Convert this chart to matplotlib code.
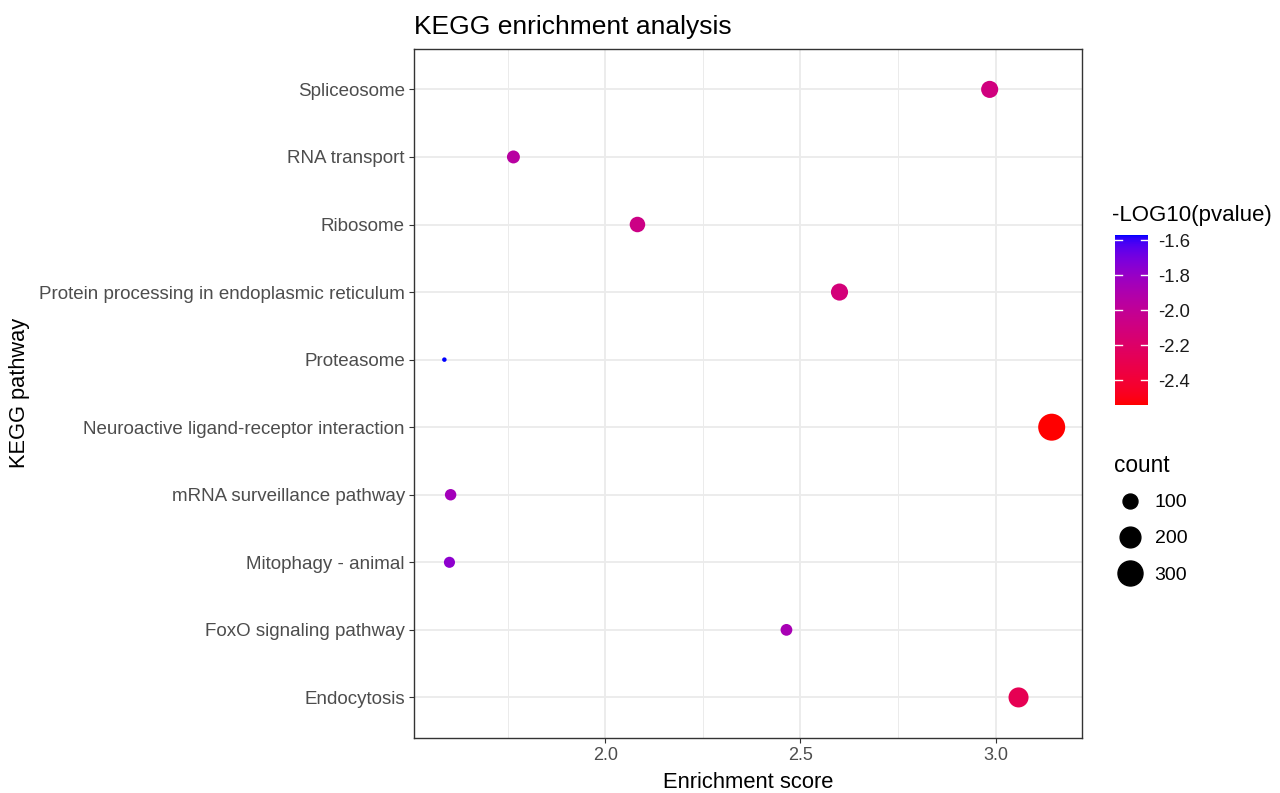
import numpy as np
import matplotlib
matplotlib.use('Agg')
import matplotlib.pyplot as plt
from matplotlib.colors import ListedColormap, Normalize
from matplotlib.lines import Line2D

plt.rcParams['font.family'] = ['Liberation Sans', 'DejaVu Sans']

pathways = ['Endocytosis', 'FoxO signaling pathway', 'Mitophagy - animal',
            'mRNA surveillance pathway', 'Neuroactive ligand-receptor interaction',
            'Proteasome', 'Protein processing in endoplasmic reticulum',
            'Ribosome', 'RNA transport', 'Spliceosome']
enrichment = [3.059, 2.464, 1.600, 1.603, 3.144, 1.587, 2.600, 2.082, 1.764, 2.985]
neg_log_p = [-2.28, -1.87, -1.77, -1.85, -2.54, -1.57, -2.12, -2.07, -1.95, -2.10]
counts = [185, 64, 58, 61, 355, 30, 132, 108, 76, 132]
legend_counts = [100, 200, 300]
cbar_ticks = [-1.6, -1.8, -2.0, -2.2, -2.4]


# ggplot-style gradient: interpolate red -> blue in Lab space
def srgb_to_lab(rgb):
    rgb = np.asarray(rgb, float)
    lin = np.where(rgb <= 0.04045, rgb / 12.92, ((rgb + 0.055) / 1.055) ** 2.4)
    m = np.array([[0.4124, 0.3576, 0.1805],
                  [0.2126, 0.7152, 0.0722],
                  [0.0193, 0.1192, 0.9505]])
    xyz = m @ lin / np.array([0.95047, 1.0, 1.08883])
    f = np.where(xyz > 0.008856, np.cbrt(xyz), 7.787 * xyz + 16 / 116)
    return np.array([116 * f[1] - 16, 500 * (f[0] - f[1]), 200 * (f[1] - f[2])])


def lab_to_srgb(lab):
    L, a, b = lab
    fy = (L + 16) / 116
    fx = fy + a / 500
    fz = fy - b / 200
    f = np.array([fx, fy, fz])
    xyz = np.where(f ** 3 > 0.008856, f ** 3, (f - 16 / 116) / 7.787)
    xyz = xyz * np.array([0.95047, 1.0, 1.08883])
    minv = np.array([[3.2406, -1.5372, -0.4986],
                     [-0.9689, 1.8758, 0.0415],
                     [0.0557, -0.2040, 1.0570]])
    lin = np.clip(minv @ xyz, 0, 1)
    rgb = np.where(lin <= 0.0031308, 12.92 * lin, 1.055 * lin ** (1 / 2.4) - 0.055)
    return np.clip(rgb, 0, 1)


lab_lo = srgb_to_lab([1, 0, 0])
lab_hi = srgb_to_lab([0, 0, 1])
cmap = ListedColormap([lab_to_srgb(lab_lo + t * (lab_hi - lab_lo)) for t in np.linspace(0, 1, 256)])
norm = Normalize(vmin=min(neg_log_p), vmax=max(neg_log_p))


# size scale like scale_size (area, range 1-6 mm)
cmin, cmax = min(counts), max(counts)
def marker_area(c):
    c = np.asarray(c, float)
    size_mm = 1 + 5 * np.sqrt(np.clip((c - cmin) / (cmax - cmin), 0, 1))
    d_pt = size_mm * 4.5 * 0.72
    return d_pt ** 2


fig = plt.figure(figsize=(12.8, 7.93), dpi=100)
ax = fig.add_axes([0.3234, 0.0694, 0.522, 0.869])

ypos = np.arange(len(pathways))
ax.scatter(enrichment, ypos, s=marker_area(counts), c=neg_log_p, cmap=cmap, norm=norm,
           linewidths=0, zorder=3)

ax.set_yticks(ypos)
ax.set_yticklabels(pathways, fontsize=13.5, color='#4D4D4D')
ax.set_ylim(-0.6, len(pathways) - 0.4)
ax.set_xlim(1.509, 3.222)
ax.set_xticks([2.0, 2.5, 3.0])
ax.set_xticklabels(['2.0', '2.5', '3.0'], fontsize=13, color='#4D4D4D')
ax.set_xticks([1.75, 2.25, 2.75], minor=True)
ax.tick_params(which='major', length=3.5, width=0.8, color='#333333', pad=3)
ax.tick_params(which='minor', length=0)
ax.grid(which='major', color='#EBEBEB', linewidth=1.3, zorder=0)
ax.grid(which='minor', axis='x', color='#EBEBEB', linewidth=0.7, zorder=0)
ax.set_axisbelow(True)
for sp in ax.spines.values():
    sp.set_color('#333333')
    sp.set_linewidth(1.0)

ax.set_xlabel('Enrichment score', fontsize=15.8)
ax.xaxis.set_label_coords(0.5, -0.05)
ax.set_ylabel('KEGG pathway', fontsize=15.7)
ax.yaxis.set_label_coords(-0.575, 0.5)
ax.set_title('KEGG enrichment analysis', fontsize=19, loc='left', pad=11)

# colour bar
cax = fig.add_axes([1115 / 1280, 1 - 405 / 793, 33 / 1280, 170 / 793])
cb = fig.colorbar(plt.cm.ScalarMappable(norm=norm, cmap=cmap), cax=cax)
cb.set_ticks(cbar_ticks)
cb.set_ticklabels([f'{t:.1f}' for t in cbar_ticks])
cb.outline.set_visible(False)
cax.tick_params(length=0, labelsize=13.3, colors='#1A1A1A', pad=7)
for t in cbar_ticks:
    cax.plot([0, 0.2], [t, t], color='white', lw=1, transform=cax.get_yaxis_transform())
    cax.plot([0.8, 1.0], [t, t], color='white', lw=1, transform=cax.get_yaxis_transform())
fig.text(1112 / 1280, 1 - 215 / 793, '-LOG10(pvalue)', fontsize=16, va='center', ha='left')

# size legend
handles = [Line2D([], [], linestyle='none', marker='o', color='black',
                  markersize=np.sqrt(marker_area(c))) for c in legend_counts]
fig.text(1114 / 1280, 1 - 465 / 793, 'count', fontsize=16.3, va='center', ha='left')
leg = fig.legend(handles, [str(c) for c in legend_counts], loc='upper left',
                 bbox_to_anchor=(1105 / 1280, 1 - 484 / 793), frameon=False,
                 fontsize=14, handlelength=1.6, handletextpad=0.45, labelspacing=0.95,
                 borderpad=0)

fig.savefig('out.png', dpi=100)
